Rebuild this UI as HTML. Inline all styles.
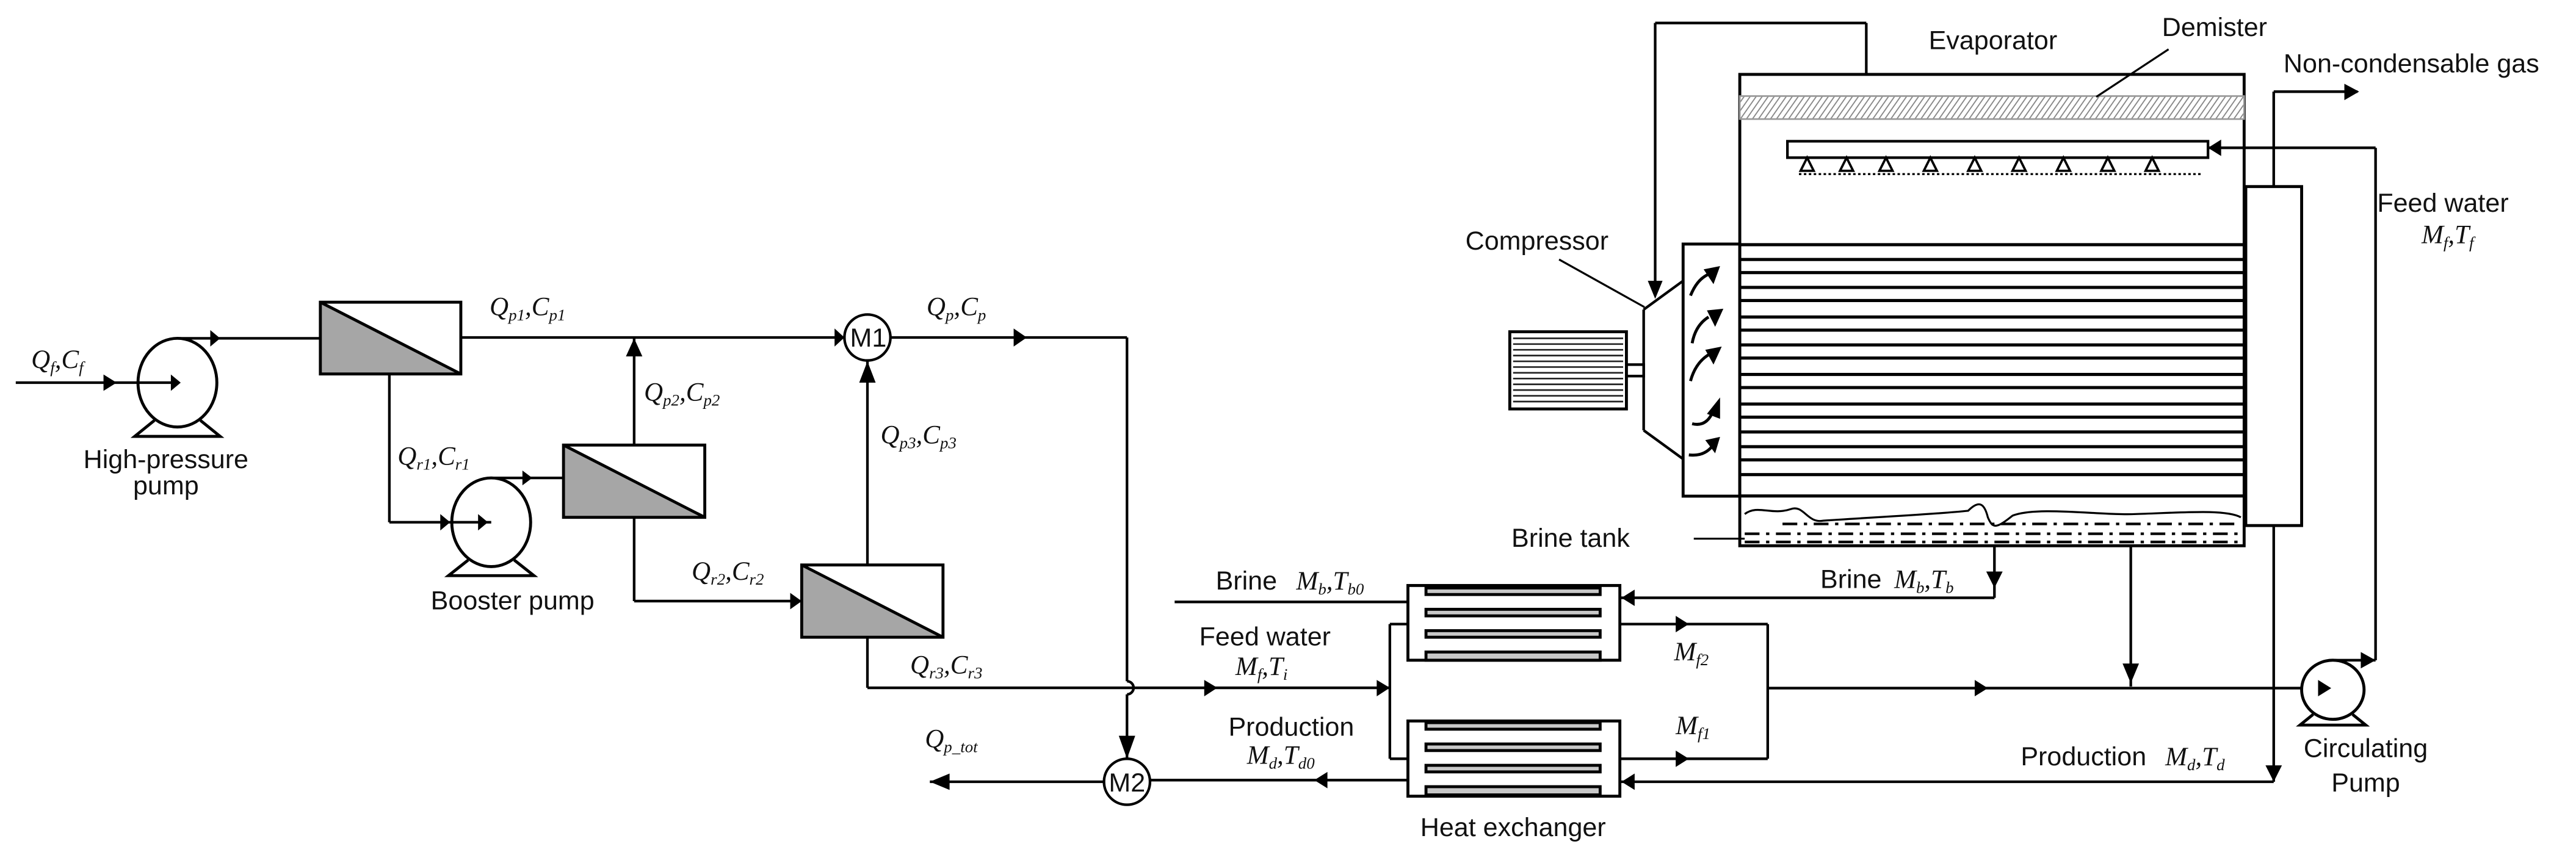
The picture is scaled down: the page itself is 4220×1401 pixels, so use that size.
<!DOCTYPE html>
<html><head><meta charset="utf-8"><style>
html,body{margin:0;padding:0;background:#fff;}
svg{display:block;}
.t{font-family:"Liberation Sans Narrow","Liberation Sans",sans-serif;font-size:16px;fill:#111;}
.m{font-family:"Liberation Serif",serif;font-style:italic;font-size:16px;fill:#111;}
.s{font-size:10px;}
</style></head><body>
<svg width="4220" height="1401" viewBox="0 0 1568 520.6" preserveAspectRatio="none" xmlns="http://www.w3.org/2000/svg">
<defs>
<pattern id="h" width="3" height="3" patternUnits="userSpaceOnUse" patternTransform="rotate(35)"><rect width="3" height="3" fill="#fff"/><line x1="0" y1="0" x2="0" y2="3" stroke="#888" stroke-width="1.4"/></pattern>
</defs>
<g fill="none" stroke="#000" stroke-width="1.6">
<line x1="9.6" y1="233" x2="108" y2="233"/>
<ellipse cx="108" cy="233" rx="24" ry="27" stroke-width="1.8"/>
<path d="M94,256 L82,265.7 L134,265.7 L122,256" stroke-width="1.8"/>
<line x1="108" y1="206" x2="195" y2="206"/>
<polygon points="195,184 280.5,227.7 195,227.7" fill="#a6a6a6" stroke="none"/>
<rect x="195" y="184" width="85.5" height="43.7" stroke-width="1.8"/>
<line x1="195" y1="184" x2="280.5" y2="227.7" stroke-width="1.8"/>
<line x1="280.5" y1="205.5" x2="514" y2="205.5"/>
<circle cx="528" cy="205.5" r="14"/>
<line x1="542" y1="205.5" x2="686" y2="205.5"/>
<line x1="686" y1="205.5" x2="686" y2="414.8"/>
<path d="M686,414.8 a4,4 0 0 1 0,8"/>
<line x1="686" y1="422.8" x2="686" y2="462"/>
<circle cx="686" cy="476" r="14"/>
<line x1="672" y1="476" x2="566" y2="476"/>
<line x1="237" y1="227.7" x2="237" y2="318"/>
<line x1="237" y1="318" x2="299" y2="318"/>
<ellipse cx="299" cy="318" rx="24" ry="27" stroke-width="1.8"/>
<path d="M285,341 L273,350.5 L325,350.5 L313,341" stroke-width="1.8"/>
<line x1="299" y1="291" x2="343" y2="291"/>
<polygon points="343,271 429,315 343,315" fill="#a6a6a6" stroke="none"/>
<rect x="343" y="271" width="86" height="44" stroke-width="1.8"/>
<line x1="343" y1="271" x2="429" y2="315" stroke-width="1.8"/>
<line x1="386" y1="271" x2="386" y2="205.5"/>
<line x1="386" y1="315" x2="386" y2="366"/>
<line x1="386" y1="366" x2="488" y2="366"/>
<polygon points="488,344 574,388 488,388" fill="#a6a6a6" stroke="none"/>
<rect x="488" y="344" width="86" height="44" stroke-width="1.8"/>
<line x1="488" y1="344" x2="574" y2="388" stroke-width="1.8"/>
<line x1="528" y1="344" x2="528" y2="219.5"/>
<line x1="528" y1="388" x2="528" y2="418.8"/>
<line x1="528" y1="418.8" x2="846" y2="418.8"/>
<line x1="715" y1="366.5" x2="857" y2="366.5"/>
<line x1="846" y1="380" x2="846" y2="462"/>
<line x1="846" y1="380" x2="857" y2="380"/>
<line x1="846" y1="462" x2="857" y2="462"/>
<line x1="700" y1="475" x2="857" y2="475"/>
<rect x="857" y="356.5" width="129" height="45.5" stroke-width="1.8"/>
<rect x="857" y="439" width="129" height="45.8" stroke-width="1.8"/>
<line x1="986" y1="380" x2="1076" y2="380"/>
<line x1="986" y1="462" x2="1076" y2="462"/>
<line x1="1076" y1="380" x2="1076" y2="462"/>
<line x1="1076" y1="419" x2="1401" y2="419"/>
<line x1="986" y1="364" x2="1214" y2="364"/>
<line x1="1214" y1="332" x2="1214" y2="364"/>
<line x1="986" y1="476" x2="1384" y2="476"/>
<line x1="1297" y1="332" x2="1297" y2="418"/>
<ellipse cx="1420" cy="420" rx="19" ry="18" stroke-width="1.8"/>
<path d="M1408,435 L1400,441.5 L1440,441.5 L1432,435" stroke-width="1.8"/>
<line x1="1420" y1="402" x2="1446" y2="402"/>
<line x1="1446" y1="402" x2="1446" y2="90"/>
<line x1="1446" y1="90" x2="1344" y2="90"/>
<rect x="1367" y="113.6" width="34" height="206.4" stroke-width="1.8"/>
<line x1="1384" y1="113.6" x2="1384" y2="55.8"/>
<line x1="1384" y1="55.8" x2="1435" y2="55.8"/>
<line x1="1384" y1="320" x2="1384" y2="476"/>
<rect x="1059" y="45.3" width="307" height="287" stroke-width="1.8"/>
<rect x="1059" y="58.5" width="307" height="14" fill="url(#h)" stroke="#999" stroke-width="1"/>
<rect x="1088" y="86" width="256" height="10"/>
<rect x="1024.5" y="148.6" width="34.5" height="153.5" stroke-width="1.8"/>
<line x1="1000.5" y1="188.5" x2="1000.5" y2="262"/>
<line x1="1000.5" y1="188.5" x2="1024.5" y2="171"/>
<line x1="1000.5" y1="262" x2="1024.5" y2="279.5"/>
<rect x="919" y="202" width="71" height="47" stroke-width="1.8"/>
<rect x="990" y="222" width="10.5" height="7"/>
<line x1="1136" y1="45.3" x2="1136" y2="14"/>
<line x1="1136" y1="14" x2="1007.5" y2="14"/>
<line x1="1007.5" y1="14" x2="1007.5" y2="176"/>
<line x1="949" y1="158" x2="1001" y2="187" stroke-width="1.2"/>
<line x1="1320" y1="30" x2="1276" y2="59" stroke-width="1.2"/>
<line x1="1031" y1="328" x2="1062" y2="328" stroke-width="1.2"/>
</g>
<g stroke="#222" stroke-width="1">
<line x1="921" y1="206" x2="988" y2="206"/><line x1="921" y1="209.5" x2="988" y2="209.5"/><line x1="921" y1="213" x2="988" y2="213"/><line x1="921" y1="216.5" x2="988" y2="216.5"/><line x1="921" y1="220" x2="988" y2="220"/><line x1="921" y1="223.5" x2="988" y2="223.5"/><line x1="921" y1="227" x2="988" y2="227"/><line x1="921" y1="230.5" x2="988" y2="230.5"/><line x1="921" y1="234" x2="988" y2="234"/><line x1="921" y1="237.5" x2="988" y2="237.5"/><line x1="921" y1="241" x2="988" y2="241"/><line x1="921" y1="244.5" x2="988" y2="244.5"/>
</g>
<g stroke="#000" stroke-width="1.9">
<line x1="1059" y1="149" x2="1366" y2="149"/>
<line x1="1059" y1="158" x2="1366" y2="158"/><line x1="1059" y1="166" x2="1366" y2="166"/>
<line x1="1059" y1="175" x2="1366" y2="175"/><line x1="1059" y1="183" x2="1366" y2="183"/>
<line x1="1059" y1="193" x2="1366" y2="193"/><line x1="1059" y1="201" x2="1366" y2="201"/>
<line x1="1059" y1="210" x2="1366" y2="210"/><line x1="1059" y1="218" x2="1366" y2="218"/>
<line x1="1059" y1="228" x2="1366" y2="228"/><line x1="1059" y1="236" x2="1366" y2="236"/>
<line x1="1059" y1="246" x2="1366" y2="246"/><line x1="1059" y1="254" x2="1366" y2="254"/>
<line x1="1059" y1="263" x2="1366" y2="263"/><line x1="1059" y1="272" x2="1366" y2="272"/>
<line x1="1059" y1="280" x2="1366" y2="280"/><line x1="1059" y1="289" x2="1366" y2="289"/>
<line x1="1059" y1="302" x2="1366" y2="302"/>
</g>
<g fill="#fff" stroke="#000" stroke-width="1.4">
<polygon points="1100,96 1096,104 1104,104"/><polygon points="1124,96 1120,104 1128,104"/><polygon points="1148,96 1144,104 1152,104"/><polygon points="1175,96 1171,104 1179,104"/><polygon points="1202,96 1198,104 1206,104"/><polygon points="1229,96 1225,104 1233,104"/><polygon points="1256,96 1252,104 1260,104"/><polygon points="1283,96 1279,104 1287,104"/><polygon points="1310,96 1306,104 1314,104"/>
</g>
<line x1="1095" y1="106" x2="1340" y2="106" stroke="#000" stroke-width="1.2" stroke-dasharray="1.5,1.5"/>
<path d="M1062,313 C1070,307 1078,314 1090,310 C1098,307 1100,319 1110,317 C1140,315 1180,313 1198,311 C1205,304 1208,307 1210,315 C1213,322 1215,322 1225,314 C1240,308 1280,314 1300,313 C1330,312 1355,310 1364,315" fill="none" stroke="#000" stroke-width="1.2"/>
<g stroke="#000" stroke-width="1.6" stroke-dasharray="9,4,2,4">
<line x1="1085" y1="319" x2="1362" y2="319"/>
<line x1="1062" y1="325" x2="1362" y2="325"/>
<line x1="1062" y1="330" x2="1362" y2="330"/>
</g>
<g fill="none" stroke="#000" stroke-width="1.8">
<path d="M1029,180 Q1033,170 1040,167"/><path d="M1030,209 Q1032,198 1040,193"/><path d="M1029,232 Q1032,221 1040,216"/><path d="M1030,258 Q1038,260 1042,252"/><path d="M1028,277 Q1037,278 1042,272"/>
</g>
<g fill="#000">
<polygon points="1047,162 1037,164 1043,173"/><polygon points="1049,188 1039,189 1044,199"/><polygon points="1048,211 1038,213 1043,222"/><polygon points="1047,242 1039,252 1047,255"/><polygon points="1047,266 1038,268 1044,276"/>
</g>
<g fill="#000">
<polygon points="63,228 71,233 63,238"/><polygon points="104,228 110,233 104,238"/>
<polygon points="128,201 134,206 128,211"/>
<polygon points="508,200 514,205.5 508,211"/>
<polygon points="617,200 625,205.5 617,211"/>
<polygon points="681,448 691,448 686,462"/>
<polygon points="578,471 566,476 578,481"/>
<polygon points="268,313 274,318 268,323"/><polygon points="291,313 297,318 291,323"/>
<polygon points="318,286.5 324,291 318,295.5"/>
<polygon points="381,217 391,217 386,206"/>
<polygon points="523,233 533,233 528,220"/>
<polygon points="481,361 488,366 481,371"/>
<polygon points="733,414 741,418.8 733,424"/><polygon points="838,414 846,418.8 838,424"/>
<polygon points="808,470 800,475 808,480"/>
<polygon points="995,359 987,364 995,369"/>
<polygon points="995,471 987,476 995,481"/>
<polygon points="1020,375 1028,380 1020,385"/><polygon points="1020,457 1028,462 1020,467"/>
<polygon points="1202,414 1210,419 1202,424"/>
<polygon points="1209,348 1219,348 1214,358"/>
<polygon points="1292,404 1302,404 1297,416"/>
<polygon points="1411,414 1419,419 1411,424"/>
<polygon points="1379,466 1389,466 1384,476"/>
<polygon points="1437,397 1446,402 1437,407"/>
<polygon points="1352,85 1344,90 1352,95"/>
<polygon points="1427,51 1436,55.8 1427,61"/>
<polygon points="1003,171 1012,171 1007.5,182"/>
</g>
<g fill="#c8c8c8" stroke="#000" stroke-width="1.8">
<rect x="868" y="358" width="106" height="4"/><rect x="868" y="371" width="106" height="4"/><rect x="868" y="384" width="106" height="4"/><rect x="868" y="397" width="106" height="5"/>
<rect x="868" y="440" width="106" height="4"/><rect x="868" y="453" width="106" height="4"/><rect x="868" y="466" width="106" height="4"/><rect x="868" y="479" width="106" height="5"/>
</g>
<text class="t" x="528.5" y="211" text-anchor="middle" font-size="15">M1</text>
<text class="t" x="686" y="482" text-anchor="middle" font-size="15">M2</text>
<text class="m" x="19" y="224">Q<tspan class="s" dy="3">f</tspan><tspan dy="-3">,C</tspan><tspan class="s" dy="3">f</tspan></text>
<text class="t" x="101" y="285" text-anchor="middle" font-size="13">High-pressure</text>
<text class="t" x="101" y="301" text-anchor="middle" font-size="13">pump</text>
<text class="m" x="298" y="192">Q<tspan class="s" dy="3">p1</tspan><tspan dy="-3">,C</tspan><tspan class="s" dy="3">p1</tspan></text>
<text class="m" x="392" y="244">Q<tspan class="s" dy="3">p2</tspan><tspan dy="-3">,C</tspan><tspan class="s" dy="3">p2</tspan></text>
<text class="m" x="242" y="283">Q<tspan class="s" dy="3">r1</tspan><tspan dy="-3">,C</tspan><tspan class="s" dy="3">r1</tspan></text>
<text class="t" x="312" y="371" text-anchor="middle" font-size="16">Booster pump</text>
<text class="m" x="421" y="353">Q<tspan class="s" dy="3">r2</tspan><tspan dy="-3">,C</tspan><tspan class="s" dy="3">r2</tspan></text>
<text class="m" x="536" y="270">Q<tspan class="s" dy="3">p3</tspan><tspan dy="-3">,C</tspan><tspan class="s" dy="3">p3</tspan></text>
<text class="m" x="554" y="410">Q<tspan class="s" dy="3">r3</tspan><tspan dy="-3">,C</tspan><tspan class="s" dy="3">r3</tspan></text>
<text class="m" x="564" y="192">Q<tspan class="s" dy="3">p</tspan><tspan dy="-3">,C</tspan><tspan class="s" dy="3">p</tspan></text>
<text class="m" x="563" y="455">Q<tspan class="s" dy="3">p_tot</tspan></text>
<text class="t" x="740" y="359">Brine</text>
<text class="m" x="789" y="359">M<tspan class="s" dy="3">b</tspan><tspan dy="-3">,T</tspan><tspan class="s" dy="3">b0</tspan></text>
<text class="t" x="770" y="393" text-anchor="middle">Feed water</text>
<text class="m" x="752" y="411">M<tspan class="s" dy="3">f</tspan><tspan dy="-3">,T</tspan><tspan class="s" dy="3">i</tspan></text>
<text class="t" x="786" y="448" text-anchor="middle">Production</text>
<text class="m" x="759" y="465">M<tspan class="s" dy="3">d</tspan><tspan dy="-3">,T</tspan><tspan class="s" dy="3">d0</tspan></text>
<text class="t" x="921" y="509" text-anchor="middle">Heat exchanger</text>
<text class="m" x="1019" y="402">M<tspan class="s" dy="3">f2</tspan></text>
<text class="m" x="1020" y="447">M<tspan class="s" dy="3">f1</tspan></text>
<text class="t" x="1108" y="358">Brine</text>
<text class="m" x="1153" y="358">M<tspan class="s" dy="3">b</tspan><tspan dy="-3">,T</tspan><tspan class="s" dy="3">b</tspan></text>
<text class="t" x="1230" y="466">Production</text>
<text class="m" x="1318" y="466">M<tspan class="s" dy="3">d</tspan><tspan dy="-3">,T</tspan><tspan class="s" dy="3">d</tspan></text>
<text class="t" x="1440" y="461" text-anchor="middle">Circulating</text>
<text class="t" x="1440" y="482" text-anchor="middle">Pump</text>
<text class="t" x="1487" y="129" text-anchor="middle">Feed water</text>
<text class="m" x="1474" y="148">M<tspan class="s" dy="3">f</tspan><tspan dy="-3">,T</tspan><tspan class="s" dy="3">f</tspan></text>
<text class="t" x="1390" y="44">Non-condensable gas</text>
<text class="t" x="1174" y="30">Evaporator</text>
<text class="t" x="1316" y="22">Demister</text>
<text class="t" x="892" y="152">Compressor</text>
<text class="t" x="920" y="333">Brine tank</text>
</svg>
</body></html>
